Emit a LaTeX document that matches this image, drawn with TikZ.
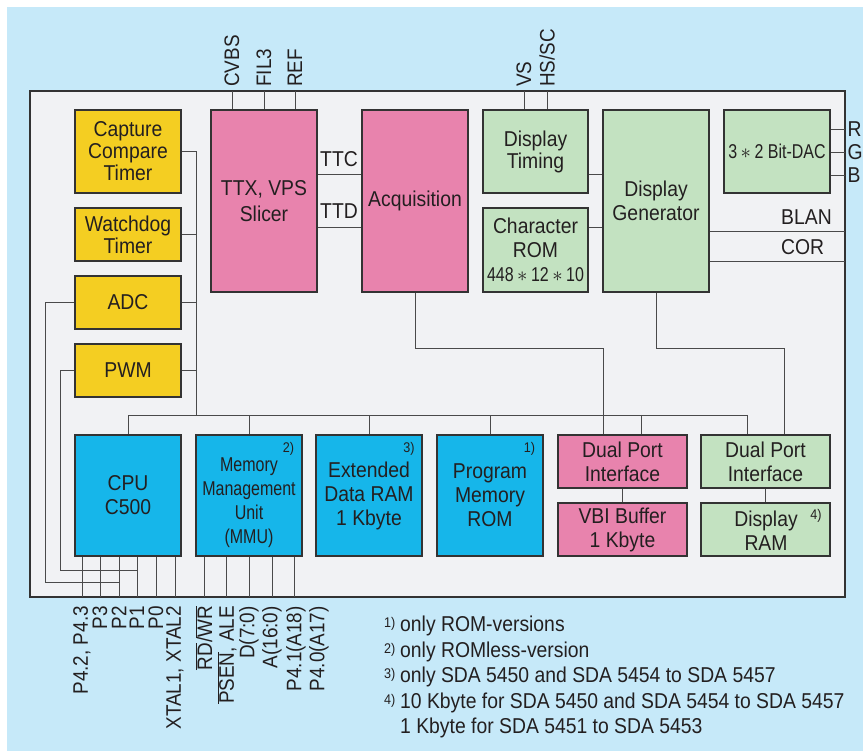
\documentclass[tikz,border=0pt]{standalone}
\usepackage{fontspec}
\setmainfont[FakeStretch=0.9]{Liberation Sans}
\newfontfamily\narrowf[FakeStretch=0.8]{Liberation Sans}
\newcommand\fsz[2]{\fontsize{#1}{#2}\selectfont}
\newcommand\ovl[1]{$\overline{\hbox{#1}}$}
\definecolor{bgblue}{HTML}{C6E9F9}
\definecolor{panelc}{HTML}{F1F2F4}
\definecolor{yel}{HTML}{F4CE22}
\definecolor{pnk}{HTML}{E883AD}
\definecolor{grn}{HTML}{C3E2C1}
\definecolor{cyb}{HTML}{16B6EA}
\definecolor{txt}{HTML}{231F20}
\definecolor{wirec}{HTML}{4A4A4A}
\definecolor{boxline}{HTML}{333333}
\begin{document}
\begin{tikzpicture}[x=1pt,y=-1pt,
  blk/.style={draw=boxline, line width=1.1pt, inner sep=0pt, align=center, text=txt, font=\fsz{21.5}{24}},
  tall/.style={minimum width=106pt, minimum height=182pt},
  sq/.style={minimum width=106pt, minimum height=121pt},
  wide/.style={minimum width=129pt, minimum height=53pt},
  wire/.style={draw=wirec, line width=0.9pt},
  pinlab/.style={inner sep=0pt, rotate=90, font=\fsz{21}{21}, text=txt},
  lab/.style={inner sep=0pt, font=\fsz{21.5}{24}, text=txt},
  fnmark/.style={inner sep=0pt, font=\fsz{14}{14}, text=txt}]
\useasboundingbox (0,0) rectangle (863,751);
\fill[white] (0,0) rectangle (863,751);
\fill[bgblue] (7,7) rectangle (863,751);
\node[draw=boxline, fill=panelc, line width=1.2pt, inner sep=0pt, minimum width=815pt, minimum height=506pt] (panel) at (437.5,344) {};

% yellow column
\node[blk, fill=yel, minimum width=106pt, minimum height=83pt, font=\fsz{21.5}{22}] (cap) at (128,151.5) {Capture\\Compare\\Timer};
\node[blk, fill=yel, minimum width=106pt, minimum height=53pt, font=\fsz{21.5}{22}] (wd) at (128,234.5) {Watchdog\\Timer};
\node[blk, fill=yel, minimum width=106pt, minimum height=53pt] (adc) at (128,302.5) {ADC};
\node[blk, fill=yel, minimum width=106pt, minimum height=53pt] (pwm) at (128,370.5) {PWM};

% top row
\node[blk, fill=pnk, tall, font=\fsz{21.5}{26}] (ttx) at (264,201) {TTX, VPS\\Slicer};
\node[blk, fill=pnk, tall] (acq) at (415,201) {Acquisition};
\node[blk, fill=grn, minimum width=105pt, minimum height=83pt, font=\fsz{21.5}{22}] (dtim) at (535.5,151.5) {Display\\Timing};
\node[blk, fill=grn, minimum width=105pt, minimum height=84pt] (crom) at (535.5,250) {Character\\ROM\\{\narrowf\fsz{20}{24}448$\,\ast\,$12$\,\ast\,$10}};
\node[blk, fill=grn, tall] (dgen) at (656,201) {Display\\Generator};
\node[blk, fill=grn, minimum width=106pt, minimum height=83pt, font=\narrowf\fsz{20}{22}] (dac) at (777,151.5) {3$\,\ast\,$2 Bit-DAC};

% bottom row
\node[blk, fill=cyb, sq] (cpu) at (128,495.5) {CPU\\C500};
\node[blk, fill=cyb, sq] (mmu) at (249,495.5) {};
\node[lab, align=center, font=\narrowf\fsz{20}{24}] (mmut) at (249,503) {Memory\\Management\\Unit\\(MMU)};
\node[blk, fill=cyb, sq] (ext) at (369,495.5) {Extended\\Data RAM\\1 Kbyte};
\node[blk, fill=cyb, sq] (prom) at (490,495.5) {Program\\Memory\\ROM};
\node[blk, fill=pnk, wide] (dpp) at (622.5,461.5) {Dual Port\\Interface};
\node[blk, fill=pnk, wide] (vbi) at (622.5,529.5) {VBI Buffer\\1 Kbyte};
\node[blk, fill=grn, wide] (dpg) at (765.5,461.5) {Dual Port\\Interface};
\node[blk, fill=grn, wide] (dram) at (765.5,529.5) {};
\node[lab, align=center] (dramt) at (766,531) {Display\\RAM};

\node[fnmark] (m2) at (288.5,449) {2)};
\node[fnmark] (m3) at (409,449) {3)};
\node[fnmark] (m1) at (529.5,449) {1)};
\node[fnmark] (m4) at (816,516) {4)};

% top pins
\coordinate (pcvbs) at (232,91);
\coordinate (pfil) at (264,91);
\coordinate (pref) at (295,91);
\coordinate (pvs) at (524,91);
\coordinate (phs) at (547,91);
\draw[wire] (pcvbs) -- (pcvbs |- ttx.north);
\draw[wire] (pfil) -- (pfil |- ttx.north);
\draw[wire] (pref) -- (pref |- ttx.north);
\draw[wire] (pvs) -- (pvs |- dtim.north);
\draw[wire] (phs) -- (phs |- dtim.north);
\node[pinlab, anchor=west] (lcvbs) at (232,87) {CVBS};
\node[pinlab, anchor=west] (lfil) at (264,87) {FIL3};
\node[pinlab, anchor=west] (lref) at (295,87) {REF};
\node[pinlab, anchor=west] (lvs) at (524,87) {VS};
\node[pinlab, anchor=west] (lhs) at (547,87) {HS/SC};

% TTC / TTD
\coordinate (yttc) at (0,174);
\coordinate (yttd) at (0,227);
\draw[wire] (ttx.east |- yttc) -- (acq.west |- yttc);
\draw[wire] (ttx.east |- yttd) -- (acq.west |- yttd);
\node[lab, anchor=base] (lttc) at (339,167) {TTC};
\node[lab, anchor=base] (lttd) at (339,219) {TTD};
\draw[wire] (dtim.east |- yttc) -- (dgen.west |- yttc);
\draw[wire] (crom.east |- yttd) -- (dgen.west |- yttd);

% RGB, BLAN, COR
\coordinate (pR) at (845,129);
\coordinate (pG) at (845,152);
\coordinate (pB) at (845,175);
\coordinate (pbl) at (845,231);
\coordinate (pco) at (845,261);
\draw[wire] (pR -| dac.east) -- (pR);
\draw[wire] (pG -| dac.east) -- (pG);
\draw[wire] (pB -| dac.east) -- (pB);
\draw[wire] (pbl -| dgen.east) -- (pbl);
\draw[wire] (pco -| dgen.east) -- (pco);
\node[lab, anchor=west] (lR) at (847.5,129) {R};
\node[lab, anchor=west] (lG) at (847.5,152) {G};
\node[lab, anchor=west] (lB) at (847.5,175) {B};
\node[lab, anchor=base west] (lbl) at (781,224.5) {BLAN};
\node[lab, anchor=base west] (lco) at (781,255) {COR};

% data paths
\coordinate (xacq) at (603,348);
\coordinate (xdg) at (784,348);
\draw[wire] (acq.south) |- (xacq) -- (xacq |- dpp.north);
\draw[wire] (dgen.south) |- (xdg) -- (xdg |- dpg.north);

% bus
\coordinate (busL) at (128,415);
\coordinate (busR) at (747,415);
\coordinate (vb) at (196,415);
\coordinate (tdpp) at (641,415);
\draw[wire] (busL) -- (busR);
\draw[wire] (cpu.north) -- (cpu.north |- busL);
\draw[wire] (mmu.north) -- (mmu.north |- busL);
\draw[wire] (ext.north) -- (ext.north |- busL);
\draw[wire] (prom.north) -- (prom.north |- busL);
\draw[wire] (tdpp) -- (tdpp |- dpp.north);
\draw[wire] (busR) -- (busR |- dpg.north);
\draw[wire] (cap.east) -| (vb);
\draw[wire] (wd.east) -- (wd.east -| vb);
\draw[wire] (adc.east) -- (adc.east -| vb);
\draw[wire] (pwm.east) -- (pwm.east -| vb);
\draw[wire] (dpp.south) -- (vbi.north);
\draw[wire] (dpg.south) -- (dram.north);

% CPU pins
\coordinate (pP4) at (82,597);
\coordinate (pP3) at (100,597);
\coordinate (pP2) at (119,597);
\coordinate (pP1) at (137,597);
\coordinate (pP0) at (156,597);
\coordinate (pXT) at (175,597);
\foreach \p in {pP4,pP3,pP2,pP1,pP0,pXT} \draw[wire] (\p |- cpu.south) -- (\p);
\coordinate (adcL) at (45,582);
\coordinate (pwmL) at (60,570);
\draw[wire] (adc.west) -| (adcL) -- (adcL -| pP2);
\draw[wire] (pwm.west) -| (pwmL) -- (pwmL -| pP1);

% MMU pins
\coordinate (pRD) at (204,597);
\coordinate (pPS) at (226,597);
\coordinate (pD) at (249,597);
\coordinate (pA) at (272,597);
\coordinate (pP41) at (294,597);
\foreach \p in {pRD,pPS,pD,pA,pP41} \draw[wire] (\p |- mmu.south) -- (\p);

\node[pinlab, anchor=east] (lP4) at (82,606) {P4.2, P4.3};
\node[pinlab, anchor=east] (lP3) at (100,606) {P3};
\node[pinlab, anchor=east] (lP2) at (119,606) {P2};
\node[pinlab, anchor=east] (lP1) at (137,606) {P1};
\node[pinlab, anchor=east] (lP0) at (156,606) {P0};
\node[pinlab, anchor=east] (lXT) at (175,606) {XTAL1, XTAL2};
\node[pinlab, anchor=east] (lRD) at (204,606) {\ovl{RD}/\ovl{WR}};
\node[pinlab, anchor=east] (lPS) at (227,606) {\ovl{PSEN}, ALE};
\node[pinlab, anchor=east] (lD) at (249,606) {D(7:0)};
\node[pinlab, anchor=east] (lA) at (272,606) {A(16:0)};
\node[pinlab, anchor=east] (lP41) at (296,606) {P4.1(A18)};
\node[pinlab, anchor=east] (lP40) at (319,606) {P4.0(A17)};

% footnotes
\node[fnmark, anchor=base west] (f1m) at (384,627) {1)};
\node[lab, anchor=base west] (f1) at (400,631) {only ROM-versions};
\node[fnmark, anchor=base west] (f2m) at (384,653) {2)};
\node[lab, anchor=base west] (f2) at (400,657) {only ROMless-version};
\node[fnmark, anchor=base west] (f3m) at (384,678) {3)};
\node[lab, anchor=base west] (f3) at (400,682) {only SDA 5450 and SDA 5454 to SDA 5457};
\node[fnmark, anchor=base west] (f4m) at (384,704) {4)};
\node[lab, anchor=base west] (f4) at (400,708) {10 Kbyte for SDA 5450 and SDA 5454 to SDA 5457};
\node[lab, anchor=base west] (f5) at (400,733.5) {1 Kbyte for SDA 5451 to SDA 5453};
\end{tikzpicture}
\end{document}
